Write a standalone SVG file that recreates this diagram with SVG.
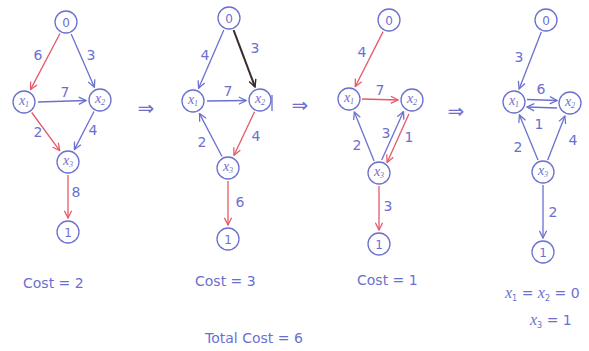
<svg xmlns="http://www.w3.org/2000/svg" width="589" height="351" viewBox="0 0 589 351">
<style>
.n circle{fill:#fff;stroke:#6b70cf;stroke-width:1.3}
.n text,.lb{font-family:"DejaVu Sans",sans-serif;fill:#6b70cf}
.n text{font-size:12px;text-anchor:middle}
.n .x{font-family:"Liberation Serif",serif;font-style:italic;font-size:14px}
.lb{font-size:14px;text-anchor:middle}
.b{stroke:#6b70cf;stroke-width:1.3;fill:none;marker-end:url(#ab)}
.r{stroke:#e4586a;stroke-width:1.3;fill:none;marker-end:url(#ar)}
.k{stroke:#3a2a2e;stroke-width:2;fill:none;marker-end:url(#ak)}
.t{font-family:"DejaVu Sans",sans-serif;fill:#6b70cf;font-size:14px}
.big{font-family:"DejaVu Sans",sans-serif;fill:#6b70cf;font-size:20px;text-anchor:middle}
</style>
<defs>
<marker id="ab" viewBox="0 0 10 10" refX="9" refY="5" markerWidth="9" markerHeight="9" markerUnits="userSpaceOnUse" orient="auto"><path d="M1,1 L9,5 L1,9" fill="none" stroke="#6b70cf" stroke-width="1.4"/></marker>
<marker id="ar" viewBox="0 0 10 10" refX="9" refY="5" markerWidth="9" markerHeight="9" markerUnits="userSpaceOnUse" orient="auto"><path d="M1,1 L9,5 L1,9" fill="none" stroke="#e4586a" stroke-width="1.4"/></marker>
<marker id="ak" viewBox="0 0 10 10" refX="9" refY="5" markerWidth="9" markerHeight="9" markerUnits="userSpaceOnUse" orient="auto"><path d="M1,1 L9,5 L1,9" fill="none" stroke="#3a2a2e" stroke-width="1.6"/></marker>
</defs>
<rect width="589" height="351" fill="#fff"/>
<g id="connectors">
<!-- graph 1 -->
<line class="r" x1="60" y1="33.5" x2="30.5" y2="89.6"/>
<line class="b" x1="71.2" y1="33.9" x2="94.4" y2="87.2"/>
<line class="b" x1="38" y1="102" x2="86" y2="100.5"/>
<line class="r" x1="31.7" y1="112.5" x2="59.7" y2="150.7"/>
<line class="b" x1="94" y1="111.5" x2="74.4" y2="149.6"/>
<line class="r" x1="68" y1="175" x2="68" y2="218"/>
<!-- graph 2 -->
<line class="b" x1="223.8" y1="29.9" x2="198.6" y2="88.2"/>
<line class="k" x1="233.6" y1="30.2" x2="255" y2="86.9"/>
<line class="b" x1="207" y1="101" x2="246" y2="100.5"/>
<line class="b" x1="222" y1="156.5" x2="199.5" y2="113.6"/>
<line class="r" x1="254.5" y1="111.8" x2="234" y2="155.3"/>
<line class="r" x1="228" y1="181" x2="228" y2="225"/>
<line x1="272" y1="95" x2="272" y2="111" stroke="#6b70cf" stroke-width="1.3"/>
<!-- graph 3 -->
<line class="r" x1="383.1" y1="31.6" x2="355.3" y2="86.5"/>
<line class="r" x1="362" y1="99" x2="398" y2="100"/>
<line class="b" x1="374.1" y1="161" x2="354.3" y2="112"/>
<line class="b" x1="381.7" y1="160" x2="403.5" y2="111.6"/>
<line class="r" x1="408.9" y1="114" x2="387.1" y2="162.4"/>
<line class="r" x1="379" y1="186" x2="379" y2="230"/>
<!-- graph 4 -->
<line class="b" x1="541.3" y1="32.1" x2="519.1" y2="88.9"/>
<line class="b" x1="527" y1="99.5" x2="557" y2="100.5"/>
<line class="b" x1="557" y1="108" x2="527" y2="107"/>
<line class="b" x1="538" y1="160" x2="519.4" y2="114.9"/>
<line class="b" x1="547.7" y1="159.9" x2="564.9" y2="116"/>
<line class="b" x1="543" y1="185" x2="543" y2="238"/>
</g>
<g id="edge-labels">
<text class="lb" x="38" y="60">6</text>
<text class="lb" x="91" y="60">3</text>
<text class="lb" x="65" y="97">7</text>
<text class="lb" x="38" y="137">2</text>
<text class="lb" x="93" y="135">4</text>
<text class="lb" x="76" y="197">8</text>
<text class="lb" x="205" y="60">4</text>
<text class="lb" x="255" y="53">3</text>
<text class="lb" x="228" y="96">7</text>
<text class="lb" x="202" y="147">2</text>
<text class="lb" x="256" y="141">4</text>
<text class="lb" x="240" y="207">6</text>
<text class="lb" x="362" y="57">4</text>
<text class="lb" x="380" y="95">7</text>
<text class="lb" x="357" y="150">2</text>
<text class="lb" x="386" y="138">3</text>
<text class="lb" x="409" y="142">1</text>
<text class="lb" x="388" y="211">3</text>
<text class="lb" x="519" y="62">3</text>
<text class="lb" x="541" y="94">6</text>
<text class="lb" x="539" y="129">1</text>
<text class="lb" x="518" y="152">2</text>
<text class="lb" x="573" y="145">4</text>
<text class="lb" x="553" y="217">2</text>
</g>
<g id="g1-n0" class="n"><circle cx="66" cy="22" r="11"/><text x="66" y="26.5">0</text></g>
<g id="g1-x1" class="n"><circle cx="24" cy="102" r="11"/><text class="x" x="24" y="105">x<tspan font-size="8" dy="2">1</tspan></text></g>
<g id="g1-x2" class="n"><circle cx="100" cy="100" r="11"/><text class="x" x="100" y="103">x<tspan font-size="8" dy="2">2</tspan></text></g>
<g id="g1-x3" class="n"><circle cx="68" cy="162" r="11"/><text class="x" x="68" y="165">x<tspan font-size="8" dy="2">3</tspan></text></g>
<g id="g1-n1" class="n"><circle cx="68" cy="232" r="11"/><text x="68" y="236.5">1</text></g>
<g id="g2-n0" class="n"><circle cx="229" cy="18" r="11"/><text x="229" y="22.5">0</text></g>
<g id="g2-x1" class="n"><circle cx="193" cy="101" r="11"/><text class="x" x="193" y="104">x<tspan font-size="8" dy="2">1</tspan></text></g>
<g id="g2-x2" class="n"><circle cx="260" cy="100" r="11"/><text class="x" x="260" y="103">x<tspan font-size="8" dy="2">2</tspan></text></g>
<g id="g2-x3" class="n"><circle cx="228" cy="168" r="11"/><text class="x" x="228" y="171">x<tspan font-size="8" dy="2">3</tspan></text></g>
<g id="g2-n1" class="n"><circle cx="228" cy="239" r="11"/><text x="228" y="243.5">1</text></g>
<g id="g3-n0" class="n"><circle cx="389" cy="20" r="11"/><text x="389" y="24.5">0</text></g>
<g id="g3-x1" class="n"><circle cx="349" cy="99" r="11"/><text class="x" x="349" y="102">x<tspan font-size="8" dy="2">1</tspan></text></g>
<g id="g3-x2" class="n"><circle cx="412" cy="100" r="11"/><text class="x" x="412" y="103">x<tspan font-size="8" dy="2">2</tspan></text></g>
<g id="g3-x3" class="n"><circle cx="379" cy="173" r="11"/><text class="x" x="379" y="176">x<tspan font-size="8" dy="2">3</tspan></text></g>
<g id="g3-n1" class="n"><circle cx="379" cy="244" r="11"/><text x="379" y="248.5">1</text></g>
<g id="g4-n0" class="n"><circle cx="546" cy="20" r="11"/><text x="546" y="24.5">0</text></g>
<g id="g4-x1" class="n"><circle cx="514" cy="102" r="11"/><text class="x" x="514" y="105">x<tspan font-size="8" dy="2">1</tspan></text></g>
<g id="g4-x2" class="n"><circle cx="570" cy="103" r="11"/><text class="x" x="570" y="106">x<tspan font-size="8" dy="2">2</tspan></text></g>
<g id="g4-x3" class="n"><circle cx="543" cy="172" r="11"/><text class="x" x="543" y="175">x<tspan font-size="8" dy="2">3</tspan></text></g>
<g id="g4-n1" class="n"><circle cx="543" cy="252" r="11"/><text x="543" y="256.5">1</text></g>
<g id="implies">
<text class="big" x="146" y="115">⇒</text>
<text class="big" x="300" y="112">⇒</text>
<text class="big" x="456" y="118">⇒</text>
</g>
<g id="notes">
<text class="t" x="23" y="288">Cost = 2</text>
<text class="t" x="195" y="286">Cost = 3</text>
<text class="t" x="357" y="285">Cost = 1</text>
<text class="t" x="205" y="343" font-size="15">Total Cost = 6</text>
<text class="t" x="505" y="298"><tspan font-family="Liberation Serif" font-style="italic" font-size="16">x</tspan><tspan font-size="8" dy="3">1</tspan><tspan dy="-3"> = </tspan><tspan font-family="Liberation Serif" font-style="italic" font-size="16">x</tspan><tspan font-size="8" dy="3">2</tspan><tspan dy="-3"> = 0</tspan></text>
<text class="t" x="530" y="325"><tspan font-family="Liberation Serif" font-style="italic" font-size="16">x</tspan><tspan font-size="8" dy="3">3</tspan><tspan dy="-3"> = 1</tspan></text>
</g>
</svg>
